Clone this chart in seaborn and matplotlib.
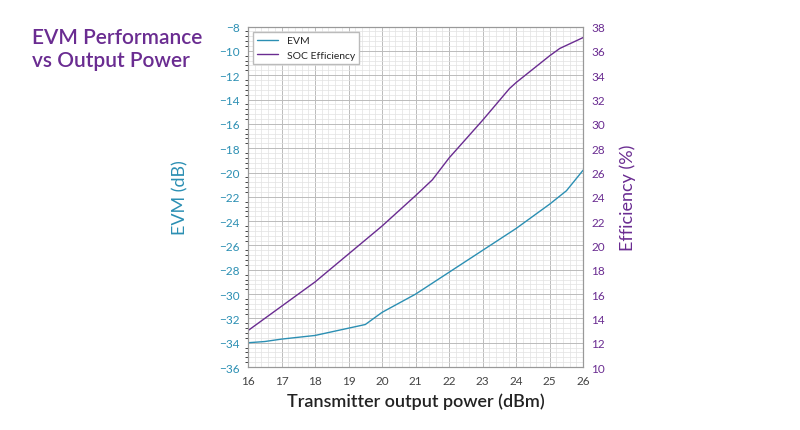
import matplotlib
matplotlib.use("Agg")
import matplotlib.pyplot as plt
from matplotlib.ticker import MultipleLocator
import seaborn as sns

# data
power = [16, 16.5, 17, 18, 19, 19.5, 20, 21, 22, 23, 24, 25, 25.5, 26]
evm = [-34, -33.9, -33.7, -33.4, -32.8, -32.5, -31.5, -30, -28.2, -26.4, -24.6, -22.6, -21.5, -19.8]
eff_power = [16, 17, 18, 19, 20, 21, 21.5, 22, 23, 23.8, 24, 25, 25.3, 26]
efficiency = [13, 15, 17, 19.3, 21.6, 24.1, 25.4, 27.2, 30.3, 32.9, 33.4, 35.6, 36.2, 37.1]

TEAL = "#2b8fb3"
PURPLE = "#6a2c91"
sns.set_style("white")
plt.rcParams["font.family"] = "Lato"

fig = plt.figure(figsize=(8, 4.31), dpi=100)
ax = fig.add_axes([0.31, 0.146, 0.419, 0.79])
ax2 = ax.twinx()

sns.lineplot(x=power, y=evm, ax=ax, color=TEAL, lw=1, label="EVM", legend=False)
sns.lineplot(x=eff_power, y=efficiency, ax=ax2, color=PURPLE, lw=1, label="SOC Efficiency", legend=False)

ax.set_xlim(16, 26)
ax.set_ylim(-36, -8)
ax2.set_ylim(10, 38)
ax.xaxis.set_major_locator(MultipleLocator(1))
ax.xaxis.set_minor_locator(MultipleLocator(0.2))
ax.yaxis.set_major_locator(MultipleLocator(2))
ax.yaxis.set_minor_locator(MultipleLocator(0.4))
ax2.yaxis.set_major_locator(MultipleLocator(2))
ax.grid(which="major", color="#bbbbbb", lw=0.7)
ax.grid(which="minor", color="#e2e2e2", lw=0.5)
ax.set_axisbelow(True)
for a in (ax, ax2):
    for s in a.spines.values():
        s.set_color("#999999")
        s.set_linewidth(0.8)
ax.tick_params(axis="both", labelsize=8.5, colors="#444444", length=0, pad=6)
ax.tick_params(axis="y", labelcolor=TEAL)
ax2.tick_params(axis="y", labelsize=8.5, labelcolor=PURPLE, length=0, pad=6)

ax.set_xlabel("Transmitter output power (dBm)", fontsize=13, color="#222222",
              labelpad=4, fontweight="semibold")
ax.set_ylabel("EVM (dB)", fontsize=13, color=TEAL, labelpad=22)
ax2.set_ylabel("Efficiency (%)", fontsize=13, color=PURPLE, labelpad=10)

h1, l1 = ax.get_legend_handles_labels()
h2, l2 = ax2.get_legend_handles_labels()
leg = ax2.legend(h1 + h2, l1 + l2, loc="upper left", fontsize=7.5, frameon=True,
                 fancybox=False, edgecolor="#bbbbbb", framealpha=1)

fig.text(0.04, 0.935, "EVM Performance\nvs Output Power", fontsize=15, color=PURPLE,
         va="top", ha="left", fontweight="semibold", linespacing=1.2)

fig.savefig("out.png", dpi=100)
